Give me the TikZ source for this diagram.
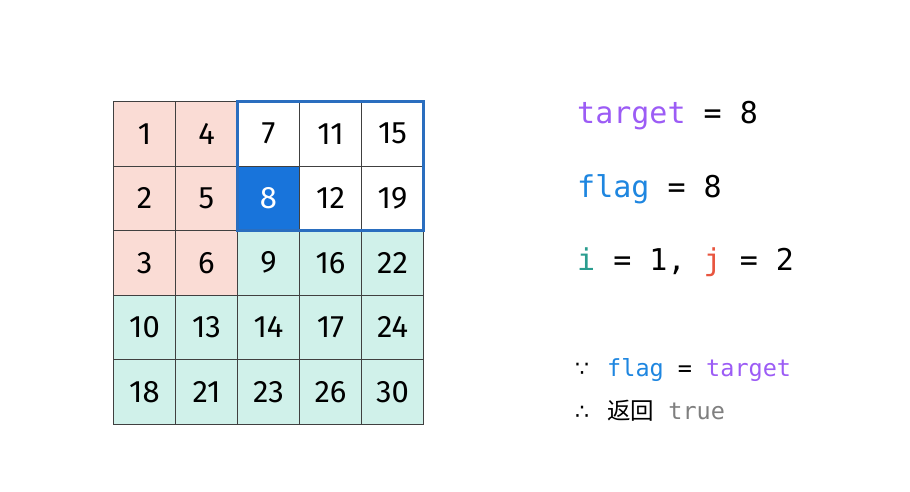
\documentclass[tikz,border=0pt]{standalone}
\usepackage{fontspec}
\setmainfont{Fira Sans}
\setmonofont{DejaVu Sans Mono}
\newfontfamily\cjk{Noto Sans CJK SC}
\newfontfamily\symfont{DejaVu Sans}
\usepackage{xcolor}
\definecolor{cellpink}{HTML}{FADCD5}
\definecolor{cellgreen}{HTML}{D0F1EA}
\definecolor{cellblue}{HTML}{1874DB}
\definecolor{boxblue}{HTML}{2A6EBF}
\definecolor{codepurple}{HTML}{9C5CF5}
\definecolor{codeblue}{HTML}{1E86E0}
\definecolor{codeteal}{HTML}{2A9D8F}
\definecolor{codered}{HTML}{E8553F}
\definecolor{codegray}{HTML}{7F7F7F}
\tikzset{
    cell/.style={draw=black!75, line width=0.9pt, minimum width=62pt, minimum height=64.5pt, inner sep=0pt, outer sep=0pt, font=\fontsize{31}{31}\selectfont},
    codeline/.style={anchor=base west, inner sep=0pt, font=\ttfamily\fontsize{30}{30}\selectfont},
    noteline/.style={anchor=base west, inner sep=0pt, font=\ttfamily\fontsize{23.5}{24}\selectfont},
    frame/.style={draw=boxblue, line width=2.5pt}
}

\begin{document}
\begin{tikzpicture}[x=1pt, y=-1pt]
    \useasboundingbox (0,0) rectangle (910,491);
    % matrix cells
    \foreach \vals [count=\r from 0] in {
        {1/cellpink/black, 4/cellpink/black, 7/white/black, 11/white/black, 15/white/black},
        {2/cellpink/black, 5/cellpink/black, 8/cellblue/white, 12/white/black, 19/white/black},
        {3/cellpink/black, 6/cellpink/black, 9/cellgreen/black, 16/cellgreen/black, 22/cellgreen/black},
        {10/cellgreen/black, 13/cellgreen/black, 14/cellgreen/black, 17/cellgreen/black, 24/cellgreen/black},
        {18/cellgreen/black, 21/cellgreen/black, 23/cellgreen/black, 26/cellgreen/black, 30/cellgreen/black}} {
        \foreach \v/\f/\t [count=\c from 0] in \vals
            \node[cell, fill=\f, text=\t] (c-\r-\c) at ({144.5+62*\c}, {133.75+64.5*\r}) {\v};
    }
    \draw[frame] (c-0-2.north west) rectangle (c-1-4.south east);
    % variables
    \node[codeline] (target) at (577,123) {\textcolor{codepurple}{target} = 8};
    \node[codeline] (flag) at (577,197) {\textcolor{codeblue}{flag} = 8};
    \node[codeline] (ij) at (577,270) {\textcolor{codeteal}{i} = 1, \textcolor{codered}{j} = 2};
    % conclusion
    \node[noteline, font=\symfont\fontsize{22}{22}\selectfont] (because) at (575,376) {∵};
    \node[noteline] (cond) at (607,376) {\textcolor{codeblue}{flag} = \textcolor{codepurple}{target}};
    \node[noteline, font=\symfont\fontsize{22}{22}\selectfont] (therefore) at (575,419) {∴};
    \node[noteline] (result) at (607,419) {{\cjk 返回} \textcolor{codegray}{true}};
\end{tikzpicture}
\end{document}
